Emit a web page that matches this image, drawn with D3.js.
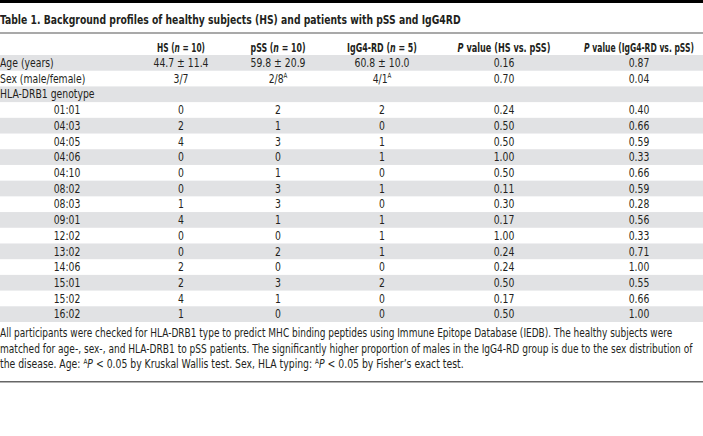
<!DOCTYPE html>
<html><head><meta charset="utf-8">
<script src="https://cdn.jsdelivr.net/npm/d3@7/dist/d3.min.js"></script>
<style>
html,body{margin:0;padding:0;background:#fff;}
svg text{font-family:"DejaVu Sans Condensed","Liberation Sans Narrow","Liberation Sans",sans-serif;fill:#231f20;}
</style></head>
<body><svg id="c" width="703" height="436"></svg>
<script>
const title = "Table 1. Background profiles of healthy subjects (HS) and patients with pSS and IgG4RD";
const columns = ["HS", "pSS", "IgG4-RD", "pHS", "pIgG4"];
const headers = [
  [["HS (",""],["n","i"],[" = 10)",""]],
  [["pSS (",""],["n","i"],[" = 10)",""]],
  [["IgG4-RD (",""],["n","i"],[" = 5)",""]],
  [["P","i"],[" value (HS vs. pSS)",""]],
  [["P","i"],[" value (IgG4-RD vs. pSS)",""]]
];
const headerWidths = [48, 55, 70, 93, 110];
const rowLabels = ["Age (years)","Sex (male/female)","HLA-DRB1 genotype","01:01","04:03","04:05","04:06","04:10","08:02","08:03","09:01","12:02","13:02","14:06","15:01","15:02","16:02"];
const hsValues   = ["44.7 ± 11.4","3/7","","0","2","4","0","0","0","1","4","0","0","2","2","4","1"];
const pssValues  = ["59.8 ± 20.9","2/8^A","","2","1","3","0","1","3","3","1","0","2","0","3","1","0"];
const iggValues  = ["60.8 ± 10.0","4/1^A","","2","0","1","1","0","1","0","1","1","1","0","2","0","0"];
const pHsPss     = ["0.16","0.70","","0.24","0.50","0.50","1.00","0.50","0.11","0.30","0.17","1.00","0.24","0.24","0.50","0.17","0.50"];
const pIggPss    = ["0.87","0.04","","0.40","0.66","0.59","0.33","0.66","0.59","0.28","0.56","0.33","0.71","1.00","0.55","0.66","1.00"];
const footLines = [
  [["All participants were checked for HLA-DRB1 type to predict MHC binding peptides using Immune Epitope Database (IEDB). The healthy subjects were",""]],
  [["matched for age-, sex-, and HLA-DRB1 to pSS patients. The significantly higher proportion of males in the IgG4-RD group is due to the sex distribution of",""]],
  [["the disease. Age: ",""],["A","s"],["P","i"],[" < 0.05 by Kruskal Wallis test. Sex, HLA typing: ",""],["A","s"],["P","i"],[" < 0.05 by Fisher\u2019s exact test.",""]]
];
const footWidths = [673, 693, 464];

const svg = d3.select("#c");
const W = 703;
const y = d3.scaleBand().domain(rowLabels).range([55, 322]);
const x = d3.scaleOrdinal().domain(columns).range([181, 278, 382, 504, 639]);
const table = [hsValues,pssValues,iggValues,pHsPss,pIggPss];

// place text at (px,py) squeezed horizontally: to target width, or by factor
function place(t, px, py, target, factor){
  let s = factor || 1;
  if (target){ const w = t.node().getComputedTextLength(); if (w>0) s = target/w; }
  t.attr("x",0).attr("y",0).attr("transform",`translate(${px},${py}) scale(${s},1)`);
}
function addRuns(t, runs, supDy){
  let up=false;
  runs.forEach(([s,st])=>{
    const ts=t.append("tspan").text(s);
    if(st==="i") ts.attr("font-style","italic");
    if(st==="s"){ ts.attr("font-size","0.62em").attr("dy",-supDy); up=true; }
    else if(up){ ts.attr("dy",supDy); up=false; }
  });
}
const SQ = 0.86;

svg.append("rect").attr("x",0).attr("y",0).attr("width",W).attr("height",3).attr("fill","#000");
const tt = svg.append("text").attr("font-weight","bold").attr("font-size",13).text(title);
place(tt, 0, 24, 461);
svg.append("rect").attr("x",0).attr("y",32.5).attr("width",W).attr("height",1).attr("fill","#555");

headers.forEach((h,i)=>{
  const t=svg.append("text").attr("text-anchor","middle").attr("font-weight","bold").attr("font-size",12.5);
  addRuns(t,h,4);
  place(t, x(columns[i]), 52, headerWidths[i]);
});

svg.selectAll("rect.band").data(rowLabels.filter((d,i)=>i%2===0)).join("rect")
  .attr("class","band").attr("x",0).attr("width",W)
  .attr("y",d=>y(d)).attr("height",y.bandwidth()).attr("fill","#e1e2e4");

rowLabels.forEach((r,i)=>{
  const geno = i>=3;
  const t = svg.append("text").attr("text-anchor",geno?"middle":"start").attr("font-size",12).text(r);
  place(t, geno?67:0, y(r)+y.bandwidth()/2+4.2, null, SQ);
});

columns.forEach((c,ci)=>{
  table[ci].forEach((v,ri)=>{
    if(!v) return;
    const t=svg.append("text").attr("text-anchor","middle").attr("font-size",12);
    if(v.includes("^")){
      const [a,b]=v.split("^");
      t.append("tspan").text(a);
      t.append("tspan").text(b).attr("font-size","0.6em").attr("dy",-5);
    } else t.text(v);
    place(t, x(c), y(rowLabels[ri])+y.bandwidth()/2+4.2, null, SQ);
  });
});

const fy=[337,352.5,368];
footLines.forEach((runs,i)=>{
  const t=svg.append("text").attr("font-size",11.8);
  addRuns(t,runs,4);
  place(t, 0, fy[i], footWidths[i]);
});
svg.append("rect").attr("x",0).attr("y",381).attr("width",W).attr("height",1.5).attr("fill","#666");
</script></body></html>
